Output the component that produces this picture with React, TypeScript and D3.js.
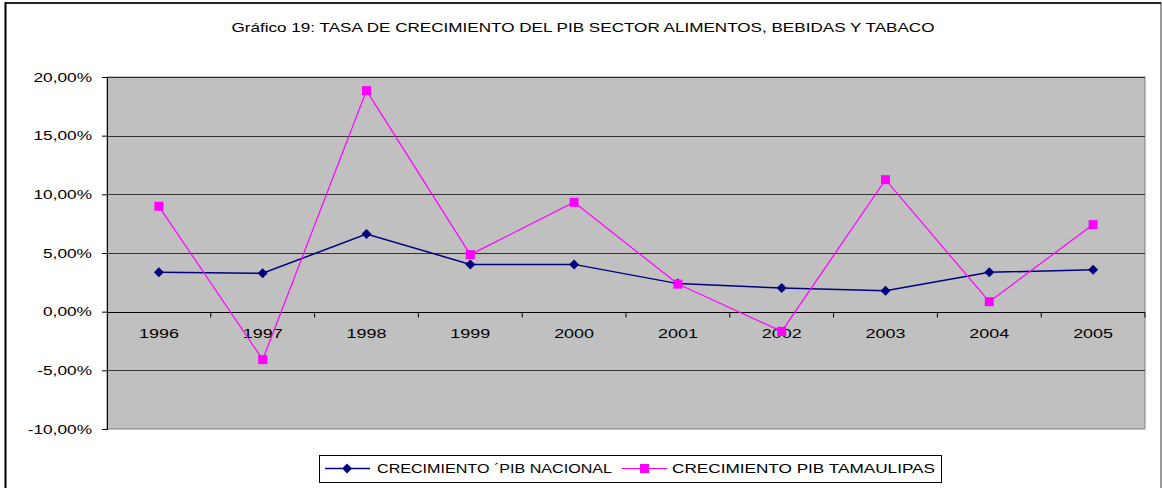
import { useEffect, useRef } from 'react';
import * as d3 from 'd3';

const years = ['1996', '1997', '1998', '1999', '2000', '2001', '2002', '2003', '2004', '2005'];
const nacional = [3.35, 3.27, 6.62, 4.03, 4.03, 2.39, 2.02, 1.79, 3.35, 3.58];
const tamaulipas = [8.98, -4.09, 18.84, 4.86, 9.32, 2.35, -1.68, 11.25, 0.85, 7.42];
const yTicks = [20, 15, 10, 5, 0, -5, -10];

const width = 1162;
const height = 488;
const plot = { left: 107, right: 1145, top: 77, bottom: 429 };
const font = '"Liberation Sans", Arial, sans-serif';
const stretch = 1.33;

function fmt(v: number) {
  return v.toFixed(2).replace('.', ',') + '%';
}

export default function App() {
  const ref = useRef<SVGSVGElement>(null);

  useEffect(() => {
    const svg = d3.select(ref.current);
    svg.selectAll('*').remove();

    const x = d3.scaleBand().domain(years).range([plot.left, plot.right]);
    const y = d3.scaleLinear().domain([-10, 20]).range([plot.bottom, plot.top]);

    // outer frame
    svg.append('rect')
      .attr('x', 5.5).attr('y', 3)
      .attr('width', 1155.5).attr('height', 490)
      .attr('fill', 'white').attr('stroke', '#555').attr('stroke-width', 1.2);
    svg.append('line')
      .attr('x1', 5.5).attr('x2', 5.5).attr('y1', 2).attr('y2', height)
      .attr('stroke', '#000').attr('stroke-width', 2);
    svg.append('line')
      .attr('x1', 5).attr('x2', 1161).attr('y1', 3).attr('y2', 3)
      .attr('stroke', '#000').attr('stroke-width', 1.5);

    svg.append('text')
      .attr('x', 583).attr('y', 32)
      .attr('text-anchor', 'middle')
      .attr('font-family', font).attr('font-size', 13)
      .attr('textLength', 703).attr('lengthAdjust', 'spacingAndGlyphs')
      .text('Gráfico 19: TASA DE CRECIMIENTO DEL PIB SECTOR ALIMENTOS, BEBIDAS Y TABACO');

    // plot area
    svg.append('rect')
      .attr('x', plot.left).attr('y', plot.top)
      .attr('width', plot.right - plot.left).attr('height', plot.bottom - plot.top)
      .attr('fill', '#C0C0C0').attr('stroke', '#808080').attr('stroke-width', 1);

    // gridlines
    svg.append('g')
      .selectAll('line')
      .data(yTicks.filter(d => d !== -10))
      .join('line')
      .attr('x1', plot.left).attr('x2', plot.right)
      .attr('y1', d => Math.round(y(d)) + 0.5).attr('y2', d => Math.round(y(d)) + 0.5)
      .attr('stroke', d => d === 0 ? '#000' : '#333')
      .attr('stroke-width', 1);

    // y axis
    const yAxis = svg.append('g')
      .attr('transform', `translate(${plot.left},0)`)
      .call(d3.axisLeft(y).tickValues(yTicks).tickSize(5).tickFormat(() => ''));
    yAxis.select('.domain').attr('stroke', '#000');

    svg.append('g')
      .selectAll('text')
      .data(yTicks)
      .join('text')
      .attr('transform', d => `translate(92,${y(d) + 4.5}) scale(${stretch},1)`)
      .attr('text-anchor', 'end')
      .attr('font-family', font).attr('font-size', 13)
      .text(d => fmt(d));

    // x axis at zero
    const y0 = Math.round(y(0)) + 0.5;
    svg.append('g')
      .selectAll('line')
      .data(years)
      .join('line')
      .attr('x1', d => x(d)! + x.bandwidth())
      .attr('x2', d => x(d)! + x.bandwidth())
      .attr('y1', y0).attr('y2', y0 + 5)
      .attr('stroke', '#000');

    svg.append('g')
      .selectAll('text')
      .data(years)
      .join('text')
      .attr('transform', d => `translate(${x(d)! + x.bandwidth() / 2},${y0 + 25}) scale(${stretch},1)`)
      .attr('text-anchor', 'middle')
      .attr('font-family', font).attr('font-size', 13.5)
      .text(d => d);

    const cx = (i: number) => x(years[i])! + x.bandwidth() / 2;
    const line = d3.line<number>().x((d, i) => cx(i)).y(d => y(d));

    svg.append('path').datum(nacional)
      .attr('d', line).attr('fill', 'none').attr('stroke', '#000080').attr('stroke-width', 1.5);
    svg.append('path').datum(tamaulipas)
      .attr('d', line).attr('fill', 'none').attr('stroke', '#FF00FF').attr('stroke-width', 1.2);

    svg.append('g')
      .selectAll('path')
      .data(nacional)
      .join('path')
      .attr('d', 'M0,-5L5,0L0,5L-5,0Z')
      .attr('transform', (d, i) => `translate(${cx(i)},${y(d)})`)
      .attr('fill', '#000080');

    svg.append('g')
      .selectAll('rect')
      .data(tamaulipas)
      .join('rect')
      .attr('x', (d, i) => cx(i) - 4.5).attr('y', d => y(d) - 4.5)
      .attr('width', 9).attr('height', 9)
      .attr('fill', '#FF00FF');

    // legend
    const lg = svg.append('g');
    lg.append('rect')
      .attr('x', 319.5).attr('y', 455.5).attr('width', 622).attr('height', 27)
      .attr('fill', 'white').attr('stroke', '#000').attr('stroke-width', 1);
    lg.append('line').attr('x1', 325).attr('x2', 370).attr('y1', 468.5).attr('y2', 468.5)
      .attr('stroke', '#000080').attr('stroke-width', 1.5);
    lg.append('path').attr('d', 'M0,-5L5,0L0,5L-5,0Z')
      .attr('transform', 'translate(347,468.5)').attr('fill', '#000080');
    lg.append('text').attr('x', 377).attr('y', 473)
      .attr('font-family', font).attr('font-size', 13)
      .attr('textLength', 235).attr('lengthAdjust', 'spacingAndGlyphs')
      .text('CRECIMIENTO ´PIB NACIONAL');
    lg.append('line').attr('x1', 622).attr('x2', 667).attr('y1', 468.5).attr('y2', 468.5)
      .attr('stroke', '#FF00FF').attr('stroke-width', 1.2);
    lg.append('rect').attr('x', 640).attr('y', 464).attr('width', 9).attr('height', 9)
      .attr('fill', '#FF00FF');
    lg.append('text').attr('x', 672).attr('y', 473)
      .attr('font-family', font).attr('font-size', 13)
      .attr('textLength', 263).attr('lengthAdjust', 'spacingAndGlyphs')
      .text('CRECIMIENTO PIB TAMAULIPAS');
  }, []);

  return (
    <svg ref={ref} width={width} height={height}
      style={{ position: 'absolute', left: 0, top: 0, background: 'white' }} />
  );
}
